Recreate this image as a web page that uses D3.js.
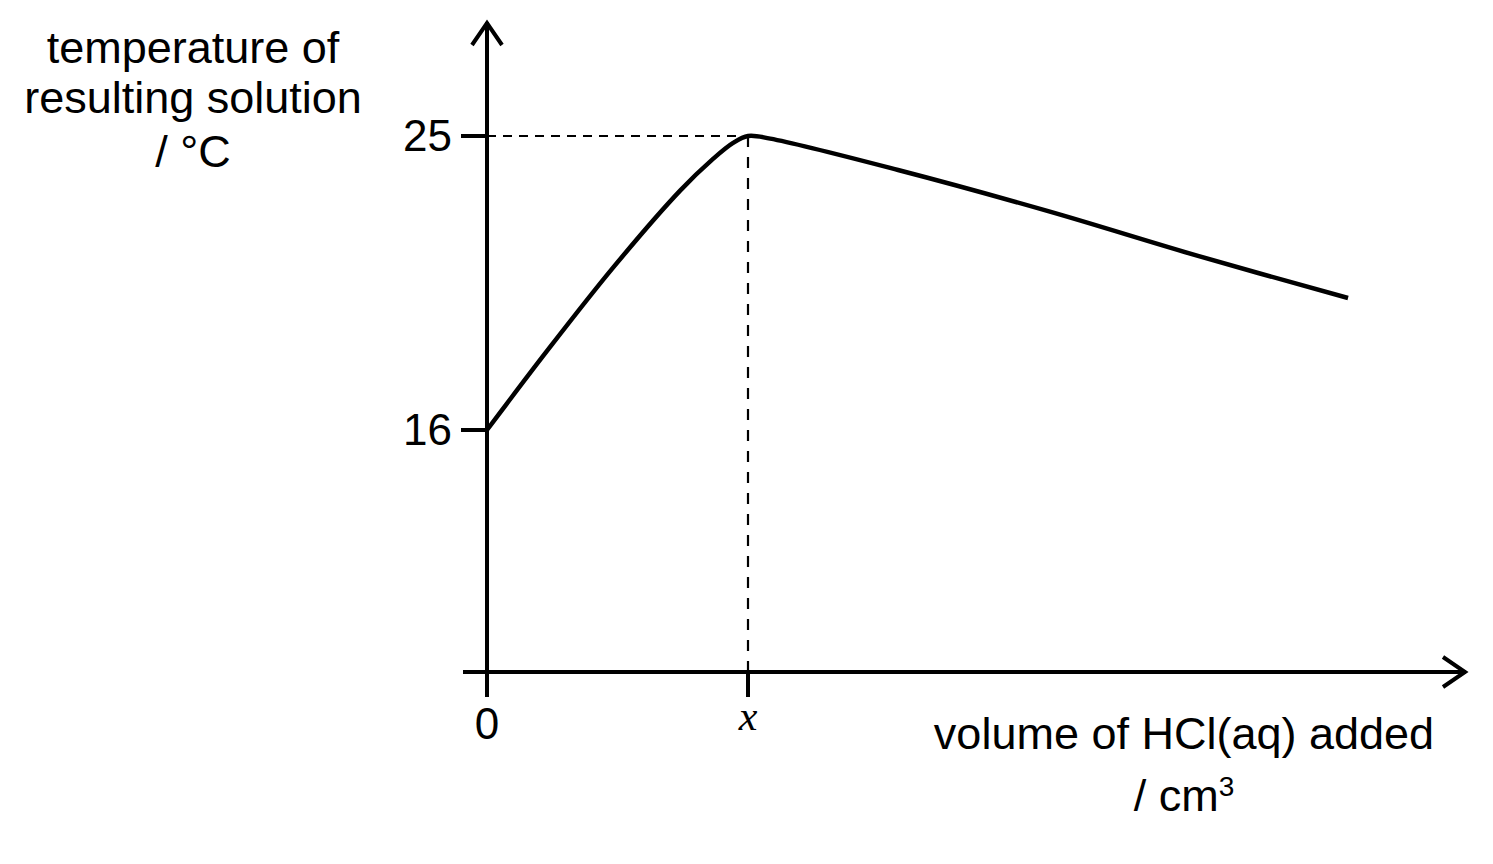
<!DOCTYPE html>
<html>
<head>
<meta charset="utf-8">
<script src="https://cdn.jsdelivr.net/npm/d3@7"></script>
<style>
  html, body { margin: 0; padding: 0; background: #fff; }
  svg { display: block; }
  text { font-family: "Liberation Sans", Arial, sans-serif; fill: #000; }
</style>
</head>
<body>
<svg id="chart" width="1493" height="864"></svg>
<script>
// ---- data (volume in arbitrary units, peak volume "x" = 10) ----
const volumes      = [0, 2.3, 4.83, 7.39, 8.66, 9.43, 10, 10.85, 15.75, 21.5, 27.24, 32.99];
const temperatures = [16, 18.42, 20.97, 23.32, 24.30, 24.79, 25, 24.92, 23.96, 22.70, 21.33, 20.04];
const yTickValues  = [16, 25];
const yTickLabels  = ["16", "25"];
const xTickValues  = [0, 10];
const xTickLabels  = ["0", "x"];
const peakVolume   = 10;
const peakTemp     = 25;
const yLabelLines  = ["temperature of", "resulting solution", "/ °C"];
const xLabelLine1  = "volume of HCl(aq) added";

const svg = d3.select("#chart");

const x = d3.scaleLinear().domain([0, 10]).range([487, 748]);
const y = d3.scaleLinear().domain([16, 25]).range([430, 136]);

const xAxisLeft = 463, xAxisRight = 1466, xAxisY = 672;
const yAxisTop = 22, yAxisBottom = 697;

// dashed guides
svg.append("line")
  .attr("x1", x(0)).attr("x2", x(peakVolume))
  .attr("y1", y(peakTemp)).attr("y2", y(peakTemp))
  .attr("stroke", "#000").attr("stroke-width", 2)
  .attr("stroke-dasharray", "9,7");
svg.append("line")
  .attr("x1", x(peakVolume)).attr("x2", x(peakVolume))
  .attr("y1", y(peakTemp)).attr("y2", xAxisY)
  .attr("stroke", "#000").attr("stroke-width", 2.2)
  .attr("stroke-dasharray", "11,10");

// axes
const g = svg.append("g").attr("stroke", "#000").attr("stroke-width", 4).attr("fill", "none");
g.append("line").attr("x1", x(0)).attr("x2", x(0)).attr("y1", yAxisBottom).attr("y2", yAxisTop);
g.append("line").attr("x1", xAxisLeft).attr("x2", xAxisRight).attr("y1", xAxisY).attr("y2", xAxisY);
// arrowheads
g.append("path").attr("d", `M${x(0)-15},${yAxisTop+23} L${x(0)},${yAxisTop+1} L${x(0)+15},${yAxisTop+23}`)
  .attr("stroke-linejoin", "miter");
g.append("path").attr("d", `M${xAxisRight-23},${xAxisY-15} L${xAxisRight-1},${xAxisY} L${xAxisRight-23},${xAxisY+15}`)
  .attr("stroke-linejoin", "miter");

// y ticks
yTickValues.forEach((v, i) => {
  g.append("line").attr("x1", x(0) - 26).attr("x2", x(0)).attr("y1", y(v)).attr("y2", y(v));
  svg.append("text").attr("x", 452).attr("y", y(v) + 15)
    .attr("text-anchor", "end").attr("font-size", 44).text(yTickLabels[i]);
});
// x ticks
xTickValues.forEach((v, i) => {
  g.append("line").attr("x1", x(v)).attr("x2", x(v)).attr("y1", xAxisY).attr("y2", yAxisBottom);
  if (xTickLabels[i] === "x") {
    svg.append("text").attr("x", x(v)).attr("y", 730)
      .attr("text-anchor", "middle").attr("font-size", 42)
      .style("font-family", "'Liberation Serif', 'Times New Roman', serif")
      .style("font-style", "italic").text(xTickLabels[i]);
  } else {
    svg.append("text").attr("x", x(v)).attr("y", 739)
      .attr("text-anchor", "middle").attr("font-size", 44).text(xTickLabels[i]);
  }
});

// curve
const line = d3.line()
  .x((d, i) => x(volumes[i]))
  .y((d, i) => y(temperatures[i]))
  .curve(d3.curveCatmullRom.alpha(0.5));
svg.append("path")
  .attr("d", line(volumes))
  .attr("fill", "none").attr("stroke", "#000").attr("stroke-width", 4.5)
  .attr("stroke-linejoin", "round");

// y label
const yBaselines = [63, 113, 167];
yLabelLines.forEach((t, i) => {
  svg.append("text").attr("x", 193).attr("y", yBaselines[i])
    .attr("text-anchor", "middle").attr("font-size", 45).text(t);
});

// x label
svg.append("text").attr("x", 1184).attr("y", 749)
  .attr("text-anchor", "middle").attr("font-size", 45).text(xLabelLine1);
const t2 = svg.append("text").attr("x", 1184).attr("y", 811)
  .attr("text-anchor", "middle").attr("font-size", 45);
t2.append("tspan").text("/ cm");
t2.append("tspan").attr("font-size", 28).attr("dy", -15).text("3");
</script>
</body>
</html>
